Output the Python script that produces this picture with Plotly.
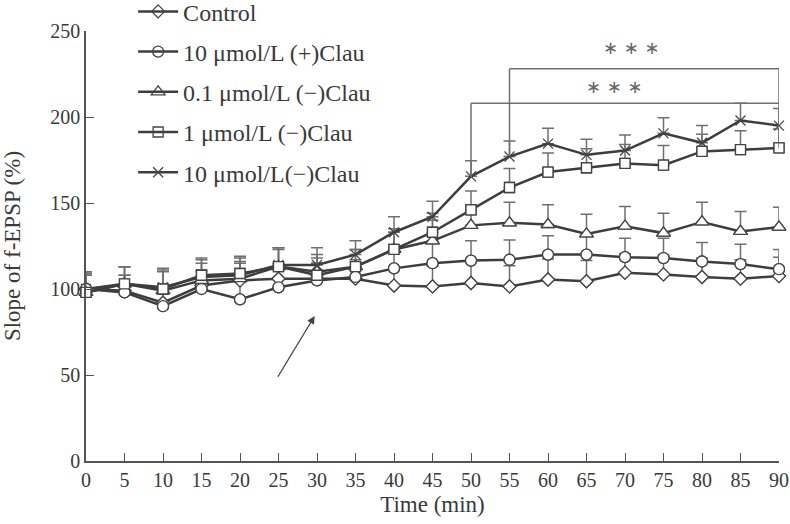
import plotly.graph_objects as go

# ---------------- data ----------------
time_min = [0, 5, 10, 15, 20, 25, 30, 35, 40, 45, 50, 55, 60, 65, 70, 75, 80, 85, 90]

control = [100, 99, 92, 102, 105, 106, 106, 106, 102, 101.5, 103.5, 101.5, 105.5, 104.5, 109.5, 108.5, 107, 106, 107.5]
control_err = [10, 9, 10, 9, 10, 9, 9, 10, 11, 12, 12, 12, 12, 12, 11, 11, 11, 11, 11]

plus10 = [100, 98, 90, 100, 94, 101, 105, 107, 112, 115, 116.5, 117, 120, 120, 118.5, 118, 116, 114.5, 111.5]
plus10_err = [9, 10, 12, 10, 10, 11, 10, 10, 12, 12, 11.5, 11.5, 11, 11, 11, 11.5, 11, 11.5, 11.5]

minus01 = [98, 103, 99, 105, 106, 113, 110, 113, 123, 128, 137, 138.5, 137.5, 132, 136.5, 132.5, 139, 133.5, 136]
minus01_err = [10, 10, 11, 10, 10, 11, 10, 10, 12, 12, 12, 12, 11.5, 11.5, 11.5, 11.5, 11.5, 11.5, 11.5]

minus1 = [98, 103, 100, 108, 109, 113, 108, 113, 123, 133, 146, 159, 168, 170.5, 173, 172, 180, 181, 182]
minus1_err = [10, 10, 11, 10, 10, 10, 10, 10, 10, 11, 11, 11, 11, 11, 11, 11.5, 10, 11, 11]

minus10 = [100, 103, 101, 107, 108, 114, 114, 120, 133, 142, 165.5, 177, 184.5, 178, 180.5, 190.5, 185, 198, 195]
minus10_err = [10, 10, 11, 10, 10, 10, 10, 8, 9, 9, 9, 9, 9, 9, 9, 9, 10, 10, 10]

series_names = ["Control", "10 μmol/L (+)Clau", "0.1 μmol/L (−)Clau",
                "1 μmol/L (−)Clau", "10 μmol/L(−)Clau"]
series_values = [control, plus10, minus01, minus1, minus10]
series_errors = [control_err, plus10_err, minus01_err, minus1_err, minus10_err]
series_symbols = ["diamond-open", "circle-open", "triangle-up-open", "square-open", "x-thin-open"]
series_sizes = [10, 11, 12, 10, 10]

x_ticks = [0, 5, 10, 15, 20, 25, 30, 35, 40, 45, 50, 55, 60, 65, 70, 75, 80, 85, 90]
y_ticks = [0, 50, 100, 150, 200, 250]

# significance brackets: (start time, end time, level, left leg bottom, right leg bottom)
sig_lower = (50, 90, 208, 165, 182)
sig_upper = (55, 90, 228, 177, 208)
sig_stars_pos = [(68.7, 217.6), (70.9, 240.7)]
sig_label = "∗ ∗ ∗"

# arrow (drug application): tail -> head in data units
arrow_tail = (24.8, 48.1)
arrow_head = (29.7, 84.3)

FONT = "Liberation Serif, Times New Roman, serif"
LINE = "#3d3d3d"
ERR = "#707070"

fig = go.Figure()
for name, vals, errs, sym, sz in zip(series_names, series_values, series_errors,
                                      series_symbols, series_sizes):
    fig.add_trace(go.Scatter(
        x=time_min, y=vals, name=name, legendgroup=name,
        mode="lines+markers",
        line=dict(color=LINE, width=2.5),
        marker=dict(symbol=sym, size=sz, color="#444444",
                    line=dict(width=1.3, color="#444444")),
        error_y=dict(type="data", array=errs, arrayminus=[0] * len(errs),
                     symmetric=False, color=ERR, thickness=1.5, width=6),
        cliponaxis=False,
    ))

# white-filled markers on top (to mimic open markers with white fill)
for name, vals, sym, sz in zip(series_names, series_values, series_symbols, series_sizes):
    if sym.startswith("x"):
        continue
    fig.add_trace(go.Scatter(
        x=time_min, y=vals, mode="markers", showlegend=False, hoverinfo="skip",
        marker=dict(symbol=sym.replace("-open", ""), size=sz, color="white",
                    line=dict(width=1.3, color="#444444")),
        cliponaxis=False,
    ))

# significance brackets
for (t0, t1, lvl, b0, b1) in (sig_lower, sig_upper):
    fig.add_shape(type="line", xref="x", yref="y", x0=t0, x1=t1, y0=lvl, y1=lvl,
                  line=dict(color=ERR, width=1.5))
    fig.add_shape(type="line", xref="x", yref="y", x0=t0, x1=t0, y0=lvl, y1=b0,
                  line=dict(color=ERR, width=1.5))
    fig.add_shape(type="line", xref="x", yref="y", x0=t1, x1=t1, y0=lvl, y1=b1,
                  line=dict(color=ERR, width=1.5))

for (sx, sy) in sig_stars_pos:
    fig.add_annotation(x=sx, y=sy, xref="x", yref="y", text=sig_label, showarrow=False,
                       font=dict(family="DejaVu Sans", size=18, color="#666666"))

fig.add_annotation(x=arrow_head[0], y=arrow_head[1], ax=arrow_tail[0], ay=arrow_tail[1],
                   xref="x", yref="y", axref="x", ayref="y", text="", showarrow=True,
                   arrowhead=2, arrowsize=1.2, arrowwidth=1.3, arrowcolor="#444444")

fig.update_layout(
    width=790, height=524,
    margin=dict(l=86, r=11, t=31, b=63, autoexpand=False),
    paper_bgcolor="white", plot_bgcolor="white",
    font=dict(family=FONT, size=20, color="#3a3a3a"),
    showlegend=True,
    legend=dict(x=0.068, y=1.097, xanchor="left", yanchor="top",
                bgcolor="rgba(0,0,0,0)", font=dict(size=24, family=FONT),
                tracegroupgap=6, itemwidth=40),
    xaxis=dict(range=[0, 90], tickvals=x_ticks, ticks="inside", ticklen=8,
               tickcolor="#555", showline=True, linecolor="#555", linewidth=1.5,
               showgrid=False, zeroline=False, automargin=False,
               title=dict(text="Time (min)", font=dict(size=23), standoff=6),
               tickfont=dict(size=20)),
    yaxis=dict(range=[0, 250], tickvals=y_ticks, ticks="inside", ticklen=8,
               tickcolor="#555", showline=True, linecolor="#555", linewidth=1.5,
               showgrid=False, zeroline=False, automargin=False,
               title=dict(text="Slope of f-EPSP (%)", font=dict(size=23), standoff=25),
               tickfont=dict(size=20)),
)

fig.write_html("out.html", config={"displayModeBar": False},
               post_script="document.body.style.margin='0px';")
